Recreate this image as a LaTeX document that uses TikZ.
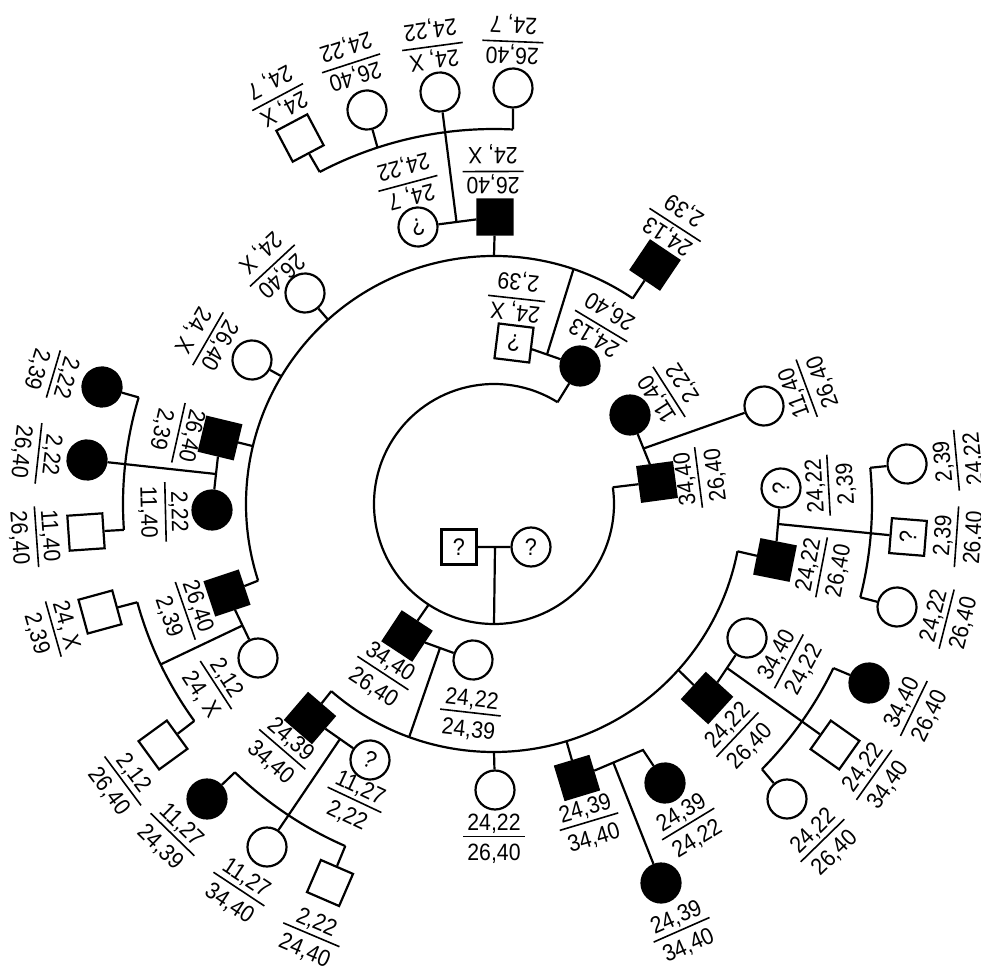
\documentclass[tikz,border=0pt]{standalone}
\usepackage{fontspec}
\usepackage{tikz}
\usetikzlibrary{calc}
\newfontfamily\labfont[FakeStretch=0.9]{Liberation Sans}
\setlength\arrayrulewidth{0.8pt}

% two haplotypes, inner one over outer one
\newcommand\gtpair[2]{\begin{tabular}{@{\,}c@{\,}}#1\\[-1.5pt]\hline\rule{0pt}{11.8pt}#2\end{tabular}}
% symbol and label turned so that their foot points away from the centre
\newcommand\indiv[5]{\node[#1,rotate={atan2(504-#4,#3-494)+90}] (#2) at (#3,-#4) {#5};}
\newcommand\gtlab[5]{\node[lab,rotate={atan2(504-#3,#2-494)+90}] (#1) at (#2,-#3) {\gtpair{#4}{#5}};}

\begin{document}
\begin{tikzpicture}[x=0.5pt,y=0.5pt,line width=1.1pt,
  male/.style={draw,rectangle,minimum size=17.5pt,inner sep=0pt,font=\labfont\fontsize{12}{12}\selectfont},
  female/.style={draw,circle,minimum size=19.5pt,inner sep=0pt,font=\labfont\fontsize{12}{12}\selectfont},
  aff/.style={fill=black},
  lab/.style={inner sep=0pt,font=\labfont\fontsize{11.8}{14}\selectfont}]
  \useasboundingbox (0,0) rectangle (981,-968);
  \coordinate (o) at (494,-504);

  % founders
  \node[male] (f0) at (459,-547) {?};
  \node[female] (m0) at (531,-547) {?};
  \coordinate (j0) at ($(f0)!0.5!(m0)$);

  % sibship lines
  \draw (o) ++(58:120) coordinate (in1) arc[start angle=58,end angle=368,radius=120] coordinate (in2);
  \path (o) ++(237:120) coordinate (in3) (o) ++(270:120) coordinate (in4);
  \draw (o) ++(56:248) coordinate (ra1) arc[start angle=56,end angle=198,radius=248] coordinate (ra2);
  \path (o) ++(71.3:248) coordinate (ra3) (o) ++(90:248) coordinate (ra4) (o) ++(132:248) coordinate (ra5)
        (o) ++(149:248) coordinate (ra6) (o) ++(166.5:248) coordinate (ra7);
  \draw (o) ++(229:248) coordinate (rb1) arc[start angle=229,end angle=349,radius=248] coordinate (rb2);
  \path (o) ++(250:248) coordinate (rb3) (o) ++(270:248) coordinate (rb4) (o) ++(287:248) coordinate (rb5)
        (o) ++(318:248) coordinate (rb6);
  \draw (o) ++(87.1:375) coordinate (rc1) arc[start angle=87.1,end angle=117.7,radius=375] coordinate (rc2);
  \path (o) ++(108.1:375) coordinate (rc3);
  \draw (o) ++(195.4:370) coordinate (rd1) arc[start angle=195.4,end angle=215.9,radius=370] coordinate (rd2);
  \path (o) ++(205.7:370) coordinate (rd3);
  \draw (o) ++(163.3:371) coordinate (re1) arc[start angle=163.3,end angle=184,radius=371] coordinate (re2);
  \draw (o) ++(-14.3:378) coordinate (rf1) arc[start angle=-14.3,end angle=5.5,radius=378] coordinate (rf2);
  \draw (o) ++(-44.7:377) coordinate (rg1) arc[start angle=-44.7,end angle=-25.8,radius=377] coordinate (rg2);
  \draw (o) ++(226:373) coordinate (ri1) arc[start angle=226,end angle=246.5,radius=373] coordinate (ri2);

  % generation II
  \indiv{male,aff}{f2a}{657}{482}{}
  \indiv{female,aff}{m2a}{630}{415}{}
  \indiv{female}{c2a}{764}{406}{}
  \indiv{male}{f2b}{514}{343}{?}
  \indiv{female,aff}{m2b}{580}{366}{}
  \indiv{male,aff}{f2c}{407}{636}{}
  \indiv{female}{m2c}{473}{660}{}

  % generation III
  \indiv{male,aff}{f3a}{655}{265}{}
  \indiv{male,aff}{f3b}{495}{217}{}
  \indiv{female}{m3b}{418}{227}{?}
  \indiv{female}{c3c}{305}{293}{}
  \indiv{female}{c3d}{252}{360}{}
  \indiv{male,aff}{f3e}{220}{438}{}
  \indiv{female,aff}{m4e}{212}{510}{}
  \indiv{male,aff}{f3f}{227}{593}{}
  \indiv{female}{m4d}{258}{658}{}
  \indiv{male,aff}{f3g}{310}{718}{}
  \indiv{female}{m4g}{370}{760}{?}
  \indiv{female}{c3h}{495}{790}{}
  \indiv{male,aff}{f3i}{577}{778}{}
  \indiv{female,aff}{c4i1}{665}{783}{}
  \indiv{male,aff}{f3j}{707}{698}{}
  \indiv{female}{m4j}{747}{638}{}
  \indiv{male,aff}{f3k}{775}{560}{}
  \indiv{female}{m4k}{781}{488}{?}

  % generation IV
  \indiv{male}{s4a}{300}{138}{}
  \indiv{female}{c4a}{367}{110}{}
  \indiv{female}{c4b}{440}{92}{}
  \indiv{female}{c4c}{513}{88}{}
  \indiv{male}{s4d}{100}{612}{}
  \indiv{male}{s4e}{163}{745}{}
  \indiv{female,aff}{c4f}{102}{387}{}
  \indiv{female,aff}{c4g}{87}{460}{}
  \indiv{male}{s4h}{86}{532}{}
  \indiv{female}{c4k1}{907}{464}{}
  \indiv{male}{s4k}{908}{537}{?}
  \indiv{female}{c4k2}{897}{607}{}
  \indiv{female,aff}{c4j1}{869}{683}{}
  \indiv{male}{s4j}{835}{745}{}
  \indiv{female}{c4j2}{787}{799}{}
  \indiv{female,aff}{c4i2}{661}{883}{}
  \indiv{female,aff}{c4g1}{207}{799}{}
  \indiv{female}{c4g2}{267}{847}{}
  \indiv{male}{s4g}{330}{883}{}

  % couples and descent
  \draw (f0) -- (m0) (j0) -- (in4);
  \draw (in1) -- (m2b) (in2) -- (f2a) (in3) -- (f2c);
  \draw (m2a) -- (f2a) (f2b) -- (m2b) (f2c) -- (m2c);
  \coordinate (j2a) at ($(m2a)!0.5!(f2a)$);
  \coordinate (j2b) at ($(f2b)!0.5!(m2b)$);
  \coordinate (j2c) at ($(f2c)!0.5!(m2c)$);
  \draw (j2a) -- (c2a) (j2b) -- (ra3) (j2c) -- (rb3);
  \draw (ra1) -- (f3a) (ra2) -- (f3f) (ra4) -- (f3b) (ra5) -- (c3c) (ra6) -- (c3d) (ra7) -- (f3e);
  \draw (rb1) -- (f3g) (rb2) -- (f3k) (rb4) -- (c3h) (rb5) -- (f3i) (rb6) -- (f3j);
  \draw (m3b) -- (f3b) (f3e) -- (m4e) (f3f) -- (m4d) (f3g) -- (m4g) (f3j) -- (m4j) (f3k) -- (m4k);
  \coordinate (k4i) at (643,-750);
  \draw (f3i) -- (k4i) -- (c4i1);
  \coordinate (j3b) at ($(m3b)!0.5!(f3b)$);
  \coordinate (j4e) at ($(f3e)!0.5!(m4e)$);
  \coordinate (j4d) at ($(f3f)!0.5!(m4d)$);
  \coordinate (j4g) at ($(f3g)!0.5!(m4g)$);
  \coordinate (j4j) at ($(f3j)!0.5!(m4j)$);
  \coordinate (j4k) at ($(f3k)!0.5!(m4k)$);
  \coordinate (j4i) at ($(f3i)!0.55!(k4i)$);
  \draw (j3b) -- (c4b) (j4e) -- (c4g) (j4d) -- (rd3) (j4g) -- (c4g2) (j4j) -- (s4j) (j4k) -- (s4k) (j4i) -- (c4i2);
  \draw (rc1) -- (c4c) (rc2) -- (s4a) (rc3) -- (c4a);
  \draw (rd1) -- (s4d) (rd2) -- (s4e) (re1) -- (c4f) (re2) -- (s4h);
  \draw (rf1) -- (c4k2) (rf2) -- (c4k1) (rg1) -- (c4j2) (rg2) -- (c4j1);
  \draw (ri1) -- (c4g1) (ri2) -- (s4g);

  % haplotypes
  \gtlab{lf2a}{702}{477}{34,40}{26,40}
  \gtlab{lm2a}{672}{390}{11,40}{2,22}
  \gtlab{lc2a}{810}{387}{11,40}{26,40}
  \gtlab{lf2b}{517}{295}{24, X}{2,39}
  \gtlab{lm2b}{603}{323}{24,13}{26,40}
  \gtlab{lf2c}{381}{676}{34,40}{26,40}
  \gtlab{lm2c}{470}{716}{24,22}{24,39}
  \gtlab{lf3a}{677}{222}{24,13}{2,39}
  \gtlab{lf3b}{493}{168}{26,40}{24, X}
  \gtlab{lm3b}{407}{180}{24, 7}{24,22}
  \gtlab{lc3c}{270}{263}{26,40}{24, X}
  \gtlab{lc3d}{205}{337}{26,40}{24, X}
  \gtlab{lf3e}{175}{432}{26,40}{2,39}
  \gtlab{lm4e}{162}{512}{2,22}{11,40}
  \gtlab{lf3f}{182}{612}{26,40}{2,39}
  \gtlab{lm4d}{213}{687}{2,12}{24, X}
  \gtlab{lf3g}{280}{752}{24,39}{34,40}
  \gtlab{lm4g}{353}{803}{11,27}{2,22}
  \gtlab{lc3h}{494}{840}{24,22}{26,40}
  \gtlab{lf3i}{590}{825}{24,39}{34,40}
  \gtlab{lc4i1}{690}{827}{24,39}{24,22}
  \gtlab{lc4i2}{683}{933}{24,39}{34,40}
  \gtlab{lf3j}{740}{737}{24,22}{26,40}
  \gtlab{lm4j}{792}{663}{34,40}{24,22}
  \gtlab{lf3k}{825}{568}{24,22}{26,40}
  \gtlab{lm4k}{832}{485}{24,22}{2,39}
  \gtlab{ls4a}{276}{94}{24, X}{24, 7}
  \gtlab{lc4a}{350}{60}{26,40}{24,22}
  \gtlab{lc4b}{432}{43}{24, X}{24,22}
  \gtlab{lc4c}{513}{38}{26,40}{24, 7}
  \gtlab{ls4d}{50}{630}{24, X}{2,39}
  \gtlab{ls4e}{120}{783}{2,12}{26,40}
  \gtlab{lc4f}{50}{373}{2,22}{2,39}
  \gtlab{lc4g}{35}{453}{2,22}{26,40}
  \gtlab{ls4h}{33}{537}{11,40}{26,40}
  \gtlab{lc4k1}{960}{460}{2,39}{24,22}
  \gtlab{ls4k}{960}{537}{2,39}{26,40}
  \gtlab{lc4k2}{950}{620}{24,22}{26,40}
  \gtlab{lc4j1}{917}{710}{34,40}{26,40}
  \gtlab{ls4j}{877}{777}{24,22}{34,40}
  \gtlab{lc4j2}{825}{843}{24,22}{26,40}
  \gtlab{lc4g1}{170}{837}{11,27}{24,39}
  \gtlab{lc4g2}{237}{892}{11,27}{34,40}
  \gtlab{ls4g}{310}{938}{2,22}{24,40}
\end{tikzpicture}
\end{document}
